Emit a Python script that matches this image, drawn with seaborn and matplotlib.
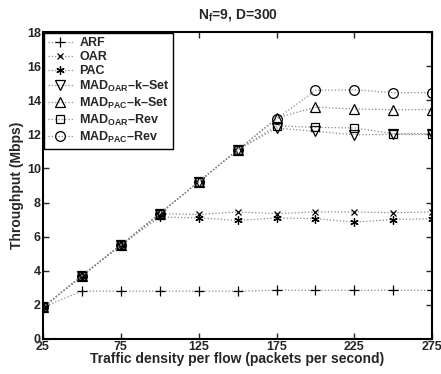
import matplotlib
matplotlib.use("Agg")
import matplotlib.pyplot as plt
import seaborn as sns
import pandas as pd

traffic = [25, 50, 75, 100, 125, 150, 175, 200, 225, 250, 275]

arf = [1.85, 2.80, 2.80, 2.80, 2.80, 2.80, 2.85, 2.85, 2.85, 2.85, 2.85]
oar = [1.85, 3.70, 5.50, 7.35, 7.30, 7.45, 7.35, 7.45, 7.45, 7.40, 7.45]
pac = [1.85, 3.70, 5.50, 7.15, 7.10, 6.95, 7.10, 7.05, 6.85, 7.00, 7.05]
mad_oar_kset = [1.85, 3.70, 5.50, 7.35, 9.22, 11.08, 12.37, 12.18, 11.98, 12.00, 12.00]
mad_pac_kset = [1.85, 3.70, 5.50, 7.35, 9.22, 11.08, 12.96, 13.60, 13.49, 13.45, 13.45]
mad_oar_rev = [1.85, 3.70, 5.50, 7.35, 9.22, 11.08, 12.51, 12.41, 12.38, 12.04, 12.04]
mad_pac_rev = [1.85, 3.70, 5.50, 7.35, 9.22, 11.08, 12.90, 14.58, 14.62, 14.45, 14.45]

labels = ["ARF", "OAR", "PAC",
          r"MAD$_{\mathbf{OAR}}$–k–Set", r"MAD$_{\mathbf{PAC}}$–k–Set",
          r"MAD$_{\mathbf{OAR}}$–Rev", r"MAD$_{\mathbf{PAC}}$–Rev"]
series = [arf, oar, pac, mad_oar_kset, mad_pac_kset, mad_oar_rev, mad_pac_rev]
markers = ["+", "x", (6, 2, 0), "v", "^", "s", "o"]
msizes = [7, 5, 6, 7, 7, 5.5, 7]

sns.set_style("ticks")
plt.rcParams["font.family"] = ["Liberation Sans", "DejaVu Sans"]
plt.rcParams["font.weight"] = "bold"
plt.rcParams["mathtext.fontset"] = "custom"
plt.rcParams["mathtext.rm"] = "Liberation Sans:bold"
plt.rcParams["mathtext.bf"] = "Liberation Sans:bold"
plt.rcParams["mathtext.it"] = "Liberation Sans:bold"

fig = plt.figure(figsize=(4.41, 3.74), dpi=100)
ax = fig.add_axes([0.0975, 0.094, 0.8825, 0.82])

rows = []
for lab, vals in zip(labels, series):
    for x, y in zip(traffic, vals):
        rows.append({"traffic": x, "thr": y, "series": lab})
df = pd.DataFrame(rows)

for lab, mk, ms in zip(labels, markers, msizes):
    sub = df[df["series"] == lab]
    sns.lineplot(data=sub, x="traffic", y="thr", ax=ax, color="#000000",
                 linestyle=":", linewidth=0.9, marker=mk, markersize=ms,
                 markerfacecolor="none", markeredgecolor="black",
                 markeredgewidth=0.9, label=lab, alpha=1.0)

for line in ax.get_lines():
    line.set_color("#888888")
    line.set_markeredgecolor("black")

ax.set_xlim(25, 275)
ax.set_ylim(0, 18)
ax.set_xticks([25, 75, 125, 175, 225, 275])
ax.set_yticks(range(0, 19, 2))
ax.tick_params(direction="in", length=4, width=1, top=True, right=True,
               labelsize=9, pad=1.5)
for lbl in ax.get_xticklabels() + ax.get_yticklabels():
    lbl.set_fontweight("bold")
for sp in ax.spines.values():
    sp.set_visible(True)
    sp.set_linewidth(1.5)
    sp.set_color("black")

ax.set_xlabel("Traffic density per flow (packets per second)", fontsize=10,
              fontweight="bold", labelpad=-1)
ax.set_ylabel("Throughput (Mbps)", fontsize=10, fontweight="bold", labelpad=2)
ax.set_title(r"N$_{f}$=9, D=300", fontsize=10, fontweight="bold", pad=10)

leg = ax.legend(loc="upper left", borderaxespad=0.1, frameon=True, fancybox=False,
                edgecolor="black", fontsize=9, handlelength=2.0,
                handletextpad=0.5, labelspacing=0.15, borderpad=0.3)
leg.get_frame().set_linewidth(1.0)
leg.get_frame().set_alpha(1)
for t in leg.get_texts():
    t.set_fontweight("bold")

fig.savefig("out.png", dpi=100)
